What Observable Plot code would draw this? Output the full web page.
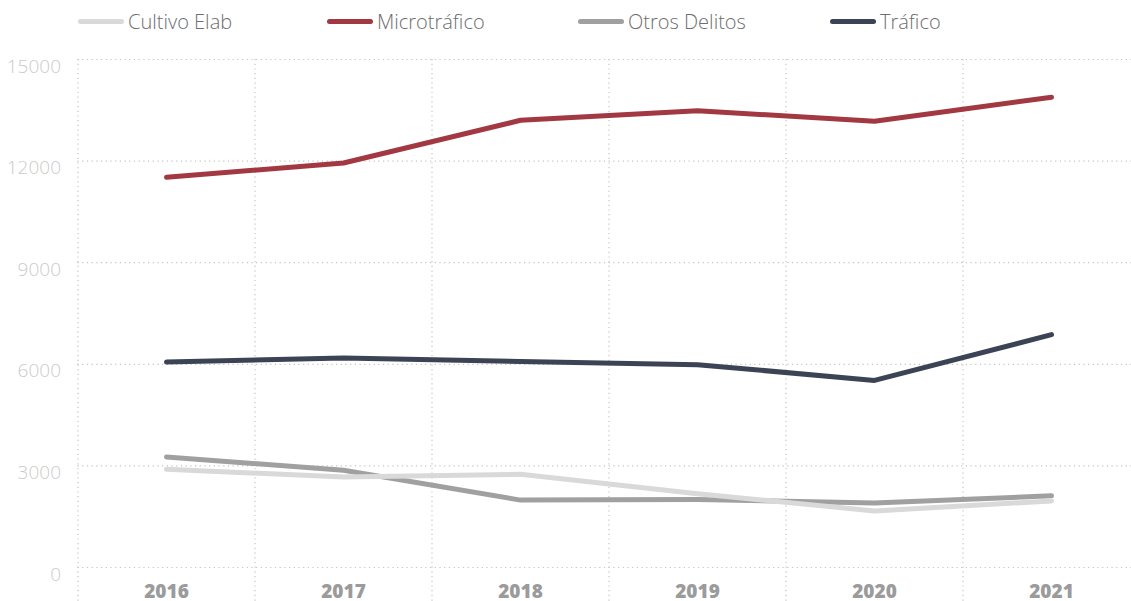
<!DOCTYPE html>
<html>
<head>
<meta charset="utf-8">
<script src="https://cdn.jsdelivr.net/npm/d3@7"></script>
<script src="https://cdn.jsdelivr.net/npm/@observablehq/plot@0.6"></script>
<style>
  html, body { margin: 0; padding: 0; background: #fff; width: 1131px; height: 601px; overflow: hidden; }
  #legend { position: relative; height: 40px; font-family: "Open Sans", sans-serif; font-weight: 300; font-size: 20px; color: #6e6e6e; }
  .item { position: absolute; top: 9px; display: flex; align-items: center; height: 24px; }
  .sw { width: 46px; height: 5px; border-radius: 3px; margin-right: 4px; }
  #chart svg { display: block; }
</style>
</head>
<body>
<div id="legend"></div>
<div id="chart"></div>
<script>
const years = [2016, 2017, 2018, 2019, 2020, 2021];
const series = ["Cultivo Elab", "Microtráfico", "Otros Delitos", "Tráfico"];
const colors = ["#d9d9d9", "#a23842", "#a0a0a0", "#3c4355"];
const cultivo = [2900, 2673, 2753, 2180, 1670, 1965];
const micro = [11520, 11945, 13205, 13490, 13175, 13885];
const otros = [3265, 2870, 1990, 2005, 1905, 2115];
const trafico = [6065, 6185, 6085, 5990, 5525, 6875];
const yTicks = [0, 3000, 6000, 9000, 12000, 15000];
const legendX = [78, 327, 578, 830];

const values = [cultivo, micro, otros, trafico];
const drawOrder = [2, 0, 1, 3];
const rows = [];
for (const s of drawOrder) years.forEach((yr, i) => rows.push({serie: series[s], year: yr, value: values[s][i]}));

// legend
const leg = document.getElementById("legend");
series.forEach((s, i) => {
  const d = document.createElement("div");
  d.className = "item";
  d.style.left = legendX[i] + "px";
  const sw = document.createElement("span");
  sw.className = "sw";
  sw.style.background = colors[i];
  const t = document.createElement("span");
  t.textContent = s;
  d.appendChild(sw); d.appendChild(t);
  leg.appendChild(d);
});

const gridX = years.map(y => y - 0.5);

const chart = Plot.plot({
  width: 1131,
  height: 561,
  marginTop: 19,
  marginBottom: 34,
  marginLeft: 0,
  marginRight: 0,
  x: {domain: [2015.5, 2021.5], range: [77.5, 1139.5], axis: null},
  y: {domain: [0, 15000], axis: null},
  color: {domain: series, range: colors},
  marks: [
    Plot.ruleY(yTicks, {x1: 2015.5, x2: 2021.5, stroke: "#c4c4c4", strokeWidth: 1.2, strokeDasharray: "1.2,3.5"}),
    Plot.ruleX(gridX, {y1: 15000, y2: -1000, stroke: "#c4c4c4", strokeWidth: 1.2, strokeDasharray: "1.2,3.5"}),
    Plot.line(rows, {x: "year", y: "value", z: "serie", stroke: "serie", strokeWidth: 5, strokeLinecap: "round", strokeLinejoin: "round"}),
    Plot.text(yTicks, {x: 2015.5, y: d => d, text: d => String(d), dx: -17, dy: 7, textAnchor: "end", fill: "#cbcbcb", fontSize: 19, fontWeight: 300, fontFamily: "Open Sans"}),
    Plot.text(years, {x: d => d, y: 0, text: d => String(d), dy: 24, fill: "#9b9b9b", fontSize: 19, fontWeight: 800, fontFamily: "Open Sans"})
  ]
});
document.getElementById("chart").appendChild(chart);
</script>
</body>
</html>
